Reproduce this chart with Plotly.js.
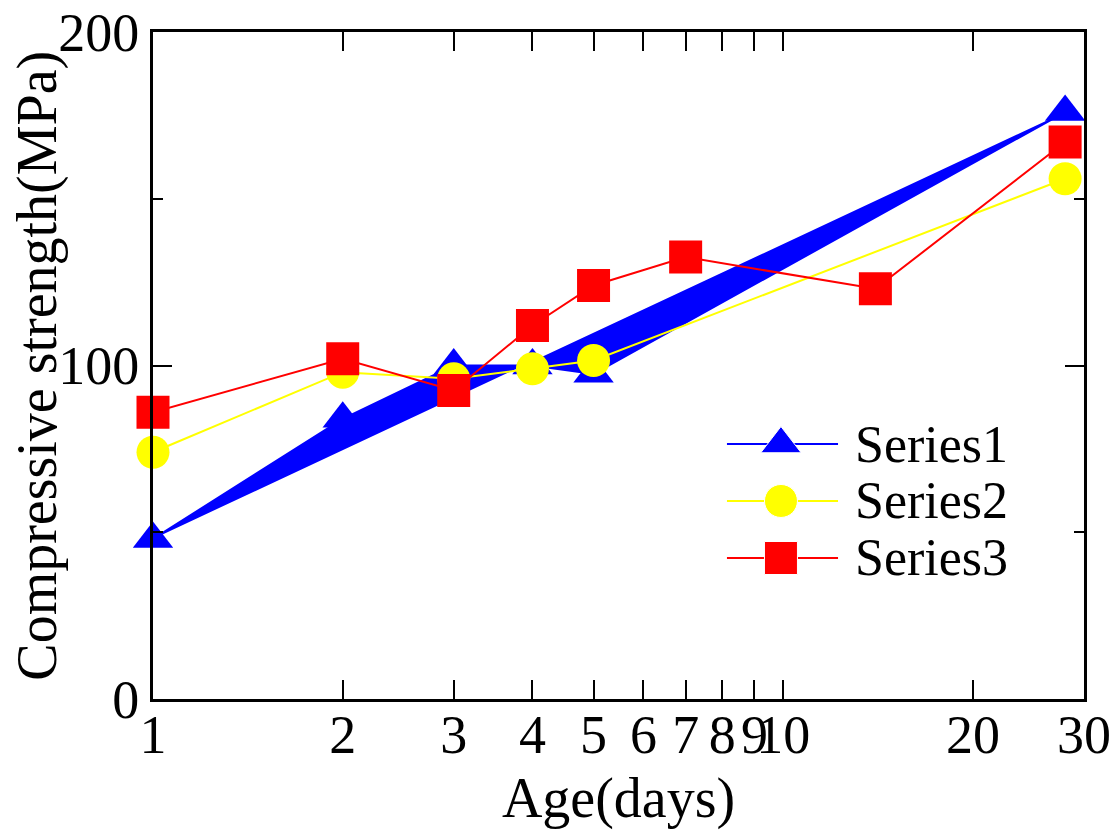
<!DOCTYPE html>
<html>
<head>
<meta charset="utf-8">
<script src="https://cdn.plot.ly/plotly-3.0.1.min.js"></script>
<style>html,body{margin:0;padding:0;background:#fff;}#chart{width:1120px;height:830px;}</style>
</head>
<body>
<div id="chart"></div>
<script>
const seriesNames = ["Series1", "Series2", "Series3"];
const s1Days = [1, 2, 3, 4, 5, 28];
const s1Strength = [48, 84, 100, 100, 97.5, 176];
const s2Days = [1, 2, 3, 4, 5, 28];
const s2Strength = [74, 98, 96, 99, 101.5, 156];
const s3Days = [1, 2, 3, 4, 5, 7, 14, 28];
const s3Strength = [86, 102, 92.5, 112, 124, 132.5, 123, 167];
const xTickVals = [1, 2, 3, 4, 5, 6, 7, 8, 9, 10, 20, 30];
const xTickText = ["1", "2", "3", "4", "5", "6", "7", "8", "9", "10", "20", "30"];
const yTickVals = [0, 100, 200];
const xTitle = "Age(days)";
const yTitle = "Compressive strength(MPa)";

const serif = "Liberation Serif, Times New Roman, serif";
const colors = ["#0000ff", "#ffff00", "#ff0000"];
const symbols = ["triangle-up", "circle", "square"];
const markerSizes = [35, 33, 33];

// Custom legend placement (fractions of the plot area)
const legendLineX = [0.6165, 0.6745, 0.7358];
const legendRowsY = [0.3823, 0.2969, 0.2114];
const legendTextX = 0.752;

const traces = [
  {
    x: s1Days, y: s1Strength, name: seriesNames[0], type: "scatter", mode: "lines+markers",
    fill: "toself", fillcolor: colors[0], cliponaxis: false,
    line: {color: colors[0], width: 2},
    marker: {symbol: symbols[0], size: markerSizes[0], color: colors[0], opacity: 1}
  },
  {
    x: s2Days, y: s2Strength, name: seriesNames[1], type: "scatter", mode: "lines+markers",
    cliponaxis: false,
    line: {color: colors[1], width: 2},
    marker: {symbol: symbols[1], size: markerSizes[1], color: colors[1], opacity: 1}
  },
  {
    x: s3Days, y: s3Strength, name: seriesNames[2], type: "scatter", mode: "lines+markers",
    cliponaxis: false,
    line: {color: colors[2], width: 2},
    marker: {symbol: symbols[2], size: markerSizes[2], color: colors[2], opacity: 1}
  }
];

const annotations = [];
seriesNames.forEach((nm, i) => {
  traces.push({
    x: legendLineX, y: [legendRowsY[i], legendRowsY[i], legendRowsY[i]],
    xaxis: "x2", yaxis: "y2", type: "scatter", mode: "lines+markers",
    showlegend: false, hoverinfo: "skip", cliponaxis: false,
    line: {color: colors[i], width: 2},
    marker: {symbol: symbols[i], size: [0, markerSizes[i], 0], color: colors[i], opacity: 1}
  });
  annotations.push({
    xref: "paper", yref: "paper", x: legendTextX, y: legendRowsY[i],
    xanchor: "left", yanchor: "middle", showarrow: false, text: nm,
    font: {family: serif, size: 52, color: "#000"}
  });
});

// Y axis title, placed as rotated text close to the tick labels
annotations.push({
  xref: "paper", yref: "paper", x: -0.124, y: 0.499,
  xanchor: "center", yanchor: "middle", textangle: -90, showarrow: false,
  text: yTitle, font: {family: serif, size: 56, color: "#000"}
});

const layout = {
  width: 1120, height: 830,
  margin: {l: 153, r: 36, t: 32, b: 131},
  paper_bgcolor: "#ffffff", plot_bgcolor: "#ffffff",
  font: {family: serif, color: "#000000", size: 54},
  showlegend: false,
  annotations: annotations,
  xaxis: {
    type: "log", range: [0, Math.log10(30)],
    tickmode: "array", tickvals: xTickVals, ticktext: xTickText, tickangle: 0,
    ticks: "inside", ticklen: 19, tickwidth: 2, tickcolor: "#000",
    ticklabelstandoff: -14,
    showline: true, linecolor: "#000", linewidth: 3, mirror: "ticks",
    showgrid: false, zeroline: false,
    tickfont: {family: serif, size: 54, color: "#000"},
    title: {text: xTitle, font: {family: serif, size: 56, color: "#000"}, standoff: 18}
  },
  yaxis: {
    range: [0, 200],
    tickmode: "array", tickvals: yTickVals,
    ticks: "inside", ticklen: 19, tickwidth: 2, tickcolor: "#000",
    minor: {dtick: 50, tick0: 0, ticks: "inside", ticklen: 10, tickwidth: 2, tickcolor: "#000"},
    showline: true, linecolor: "#000", linewidth: 3, mirror: "ticks",
    showgrid: false, zeroline: false,
    tickfont: {family: serif, size: 54, color: "#000"}
  },
  xaxis2: {overlaying: "x", range: [0, 1], visible: false, fixedrange: true},
  yaxis2: {overlaying: "y", range: [0, 1], visible: false, fixedrange: true}
};

Plotly.newPlot("chart", traces, layout, {displayModeBar: false, staticPlot: true});
</script>
</body>
</html>
